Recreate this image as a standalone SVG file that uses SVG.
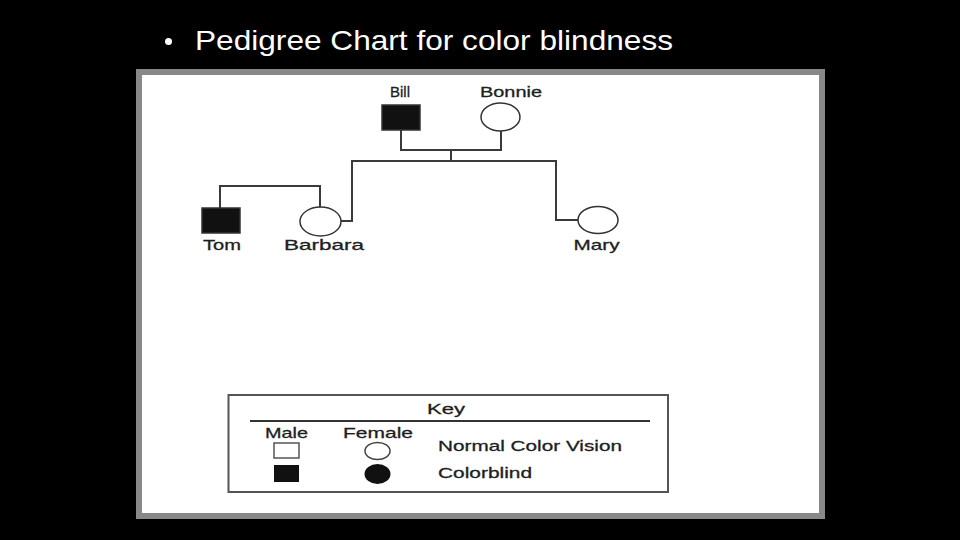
<svg xmlns="http://www.w3.org/2000/svg" width="960" height="540" viewBox="0 0 960 540">
<style>
.lbl{font-family:"Liberation Sans",Arial,sans-serif;font-size:15px;fill:#1e1e1e;text-anchor:middle;stroke:#1e1e1e;stroke-width:0.3}
.key{font-family:"Liberation Sans",Arial,sans-serif;font-size:15px;fill:#1e1e1e;stroke:#1e1e1e;stroke-width:0.3}
.ln{fill:none;stroke:#3a3a3a;stroke-width:2}
.male{fill:#111;stroke:#333;stroke-width:1.5}
.fem{fill:#fff;stroke:#333;stroke-width:1.5}
</style>
<rect x="0" y="0" width="960" height="540" fill="#000"/>
<circle cx="168.5" cy="41.5" r="3.5" fill="#fff"/>
<text x="195" y="50" font-family="'Liberation Sans',Arial,sans-serif" font-size="28" fill="#fff" textLength="478" lengthAdjust="spacingAndGlyphs">Pedigree Chart for color blindness</text>
<rect x="139" y="72" width="683" height="444" fill="#fff" stroke="#888" stroke-width="6"/>
<g id="connectors">
<path class="ln" d="M401 130 V150 H501 V131"/>
<path class="ln" d="M451 150 V161"/>
<path class="ln" d="M341 221 H352 V161 H556 V220 H578"/>
<path class="ln" d="M220 208 V186 H320 V207"/>
</g>
<g id="bill"><rect class="male" x="382" y="105" width="38" height="25"/><text class="lbl" x="400" y="97" textLength="20" lengthAdjust="spacingAndGlyphs">Bill</text></g>
<g id="bonnie"><ellipse class="fem" cx="500.5" cy="117" rx="19.5" ry="14"/><text class="lbl" x="511" y="97" textLength="62" lengthAdjust="spacingAndGlyphs">Bonnie</text></g>
<g id="tom"><rect class="male" x="202" y="208" width="38" height="25"/><text class="lbl" x="222" y="250" textLength="38" lengthAdjust="spacingAndGlyphs">Tom</text></g>
<g id="barbara"><ellipse class="fem" cx="320.5" cy="221.5" rx="20.5" ry="14.5"/><text class="lbl" x="324" y="250" textLength="80" lengthAdjust="spacingAndGlyphs">Barbara</text></g>
<g id="mary"><ellipse class="fem" cx="598" cy="220" rx="20" ry="13.5"/><text class="lbl" x="596.5" y="250" textLength="46" lengthAdjust="spacingAndGlyphs">Mary</text></g>
<g id="key">
<rect x="228.5" y="395" width="439.5" height="97" fill="#fff" stroke="#555" stroke-width="2"/>
<text class="key" x="446" y="414" font-size="19" text-anchor="middle" textLength="38" lengthAdjust="spacingAndGlyphs">Key</text>
<line x1="250" y1="421" x2="650" y2="421" stroke="#333" stroke-width="2"/>
<text class="lbl" x="286.5" y="438" textLength="43" lengthAdjust="spacingAndGlyphs">Male</text>
<text class="lbl" x="378" y="438" textLength="70" lengthAdjust="spacingAndGlyphs">Female</text>
<rect x="274" y="443" width="25" height="15" fill="#fff" stroke="#555" stroke-width="1.5"/>
<ellipse cx="377.5" cy="451" rx="12.5" ry="8.5" fill="#fff" stroke="#444" stroke-width="1.5"/>
<text class="key" x="438" y="451" textLength="184" lengthAdjust="spacingAndGlyphs">Normal Color Vision</text>
<rect x="274" y="465" width="25" height="17" fill="#111"/>
<ellipse cx="377.5" cy="474" rx="13" ry="10" fill="#111"/>
<text class="key" x="438" y="478" textLength="94" lengthAdjust="spacingAndGlyphs">Colorblind</text>
</g>
</svg>
